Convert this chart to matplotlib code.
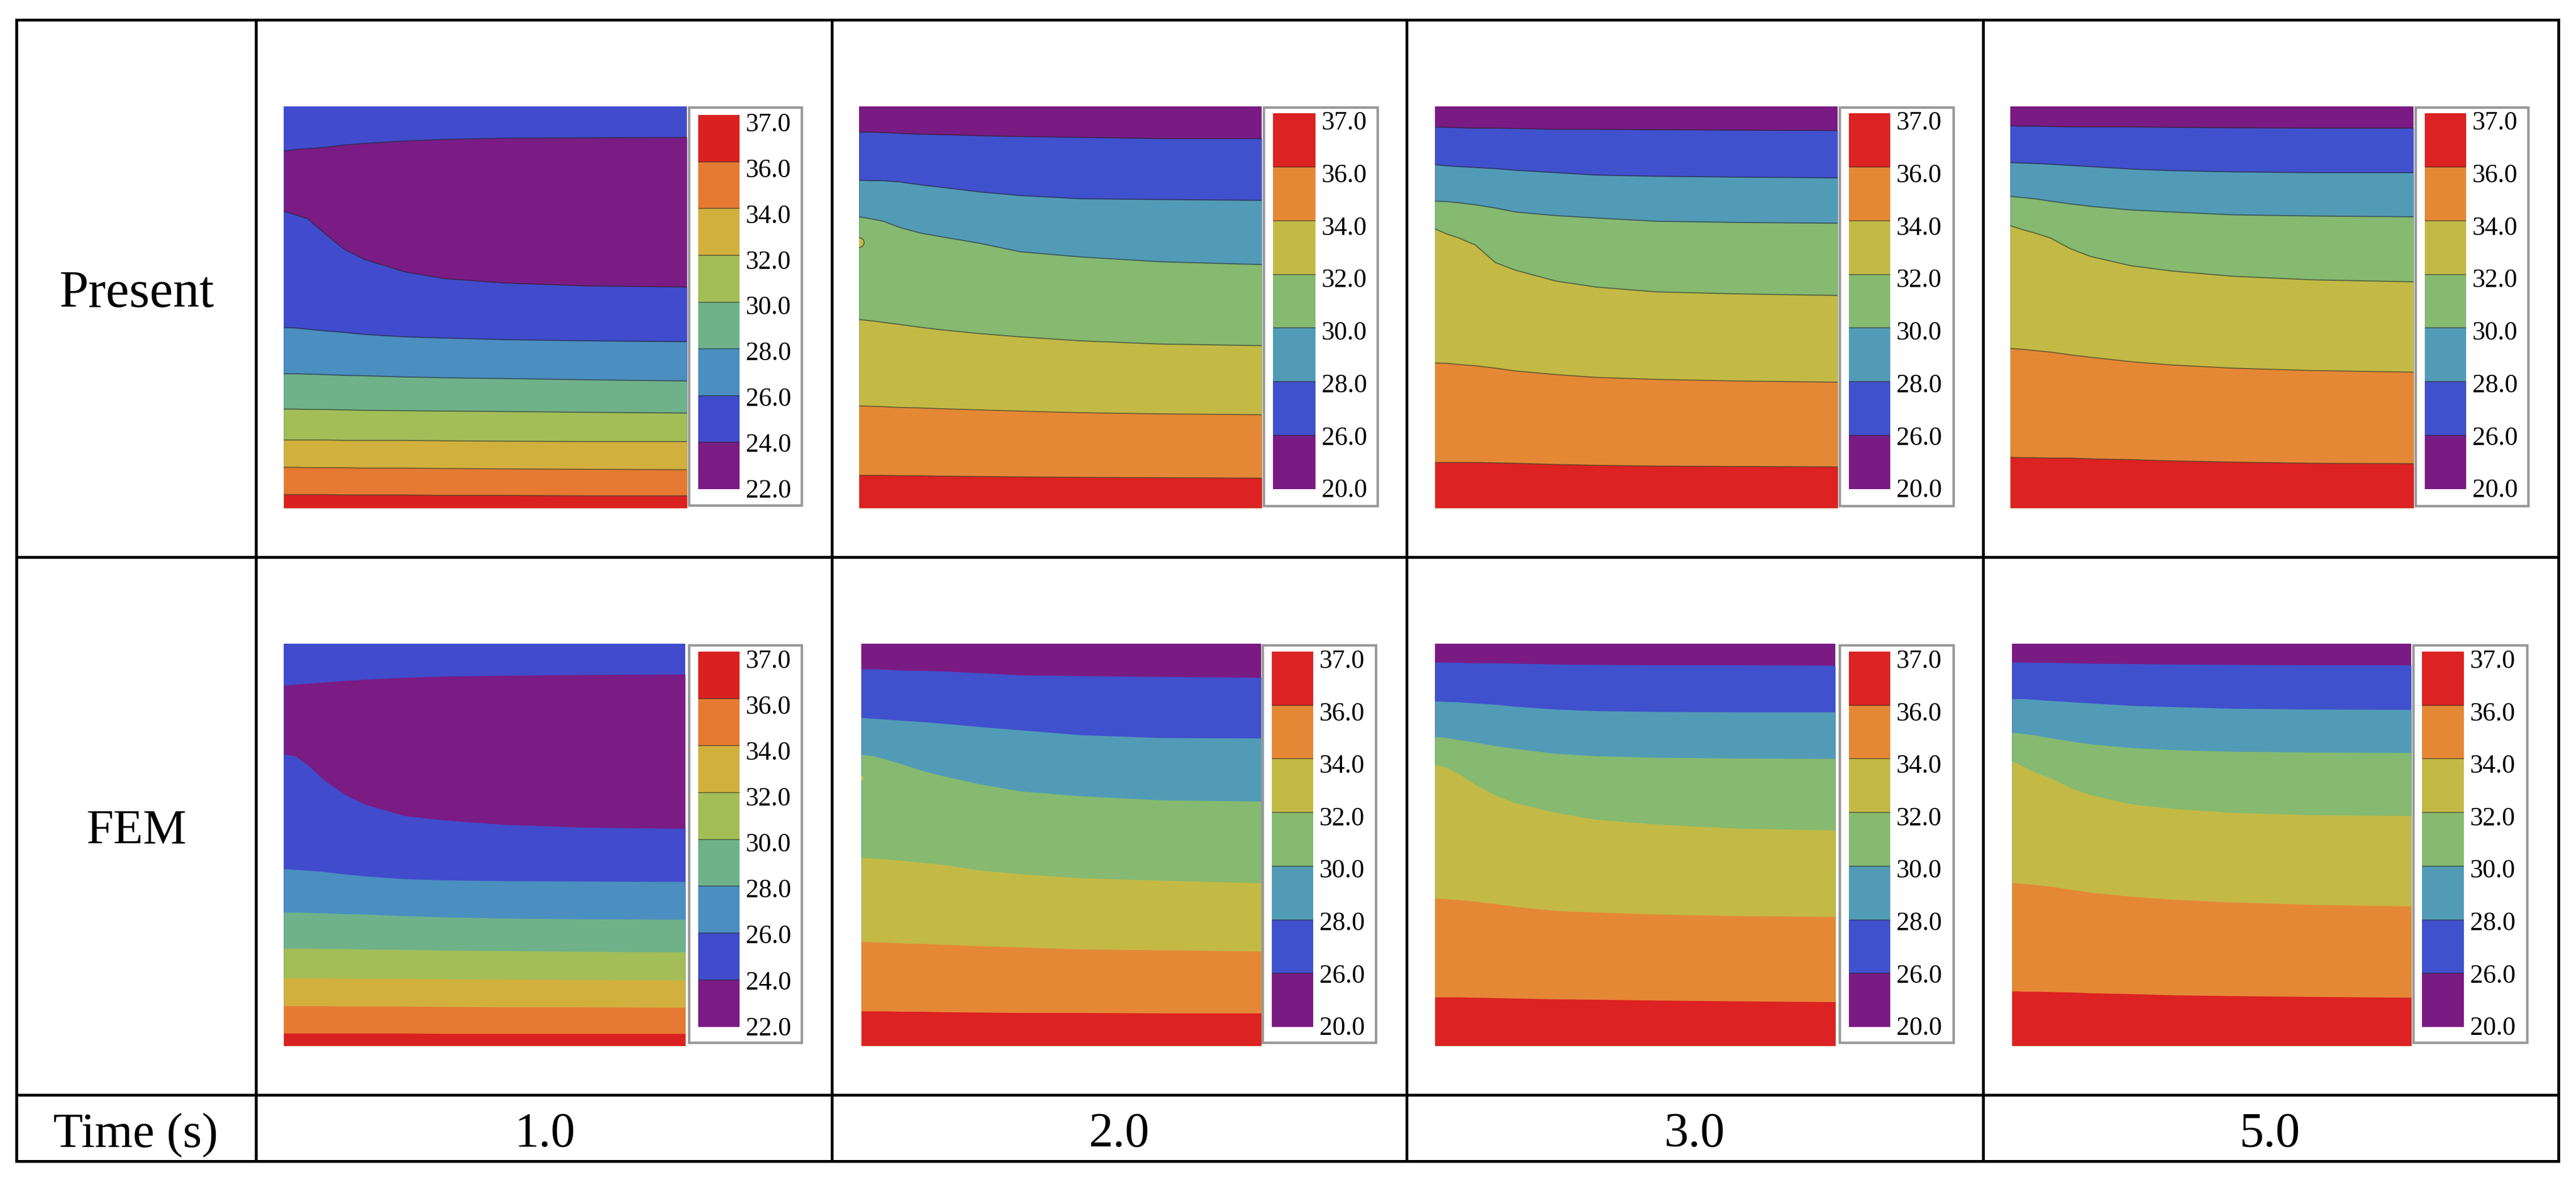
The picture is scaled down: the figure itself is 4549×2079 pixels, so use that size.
import numpy as np
import matplotlib
matplotlib.use('Agg')
import matplotlib.pyplot as plt
from matplotlib.patches import Rectangle

W, H = 4549, 2079
plt.rcParams['font.family'] = ['Liberation Serif', 'DejaVu Serif']

# positions along the plate width, shared by all curves
x_frac = [0, .03, .06, .1, .15, .2, .3, .4, .55, .75, 1]

# boundary depth (% of plate height from top) for each panel
present_1 = [
    [11.1, 10.7, 10.5, 10.2, 9.6, 9.2, 8.6, 8.2, 7.9, 7.8, 7.7],
    [26.1, 27.0, 28.0, 31.5, 35.6, 38.1, 41.2, 42.9, 44.0, 44.7, 45.0],
    [55.1, 55.2, 55.5, 55.9, 56.3, 56.8, 57.4, 57.7, 58.1, 58.4, 58.6],
    [66.6, 66.6, 66.7, 66.8, 67.0, 67.1, 67.4, 67.6, 67.8, 68.1, 68.4],
    [75.4, 75.4, 75.5, 75.5, 75.6, 75.7, 75.8, 75.9, 76.0, 76.2, 76.4],
    [83.1, 83.1, 83.1, 83.1, 83.2, 83.2, 83.2, 83.3, 83.4, 83.5, 83.5],
    [89.9, 89.9, 90.0, 90.0, 90.0, 90.1, 90.1, 90.2, 90.3, 90.4, 90.5],
    [96.7, 96.7, 96.7, 96.7, 96.8, 96.8, 96.8, 96.9, 96.9, 97.0, 97.0],
]
present_2 = [
    [6.4, 6.4, 6.5, 6.7, 6.9, 7.0, 7.3, 7.5, 7.7, 8.0, 8.0],
    [18.4, 18.5, 18.5, 18.8, 19.5, 20.1, 21.3, 22.2, 23.0, 23.2, 23.4],
    [27.5, 28.0, 28.6, 30.1, 31.5, 32.4, 34.1, 36.2, 37.5, 38.7, 39.4],
    [53.1, 53.4, 53.8, 54.3, 55.0, 55.6, 56.6, 57.4, 58.4, 59.2, 59.6],
    [74.6, 74.7, 74.8, 75.0, 75.1, 75.3, 75.6, 75.9, 76.3, 76.6, 76.8],
    [91.9, 91.9, 91.9, 92.0, 92.0, 92.1, 92.2, 92.3, 92.4, 92.5, 92.6],
]
present_3 = [
    [5.1, 5.2, 5.3, 5.4, 5.4, 5.5, 5.7, 5.7, 5.8, 5.9, 6.0],
    [14.5, 14.8, 15.0, 15.2, 15.5, 15.9, 16.5, 17.1, 17.4, 17.6, 17.8],
    [23.6, 23.7, 24.0, 24.5, 25.3, 26.3, 27.2, 27.8, 28.6, 28.9, 29.1],
    [30.5, 31.8, 32.8, 34.5, 38.9, 40.8, 43.5, 45.0, 46.2, 46.7, 47.1],
    [63.9, 64.0, 64.3, 64.6, 65.2, 65.9, 66.8, 67.5, 68.0, 68.4, 68.7],
    [88.7, 88.7, 88.7, 88.7, 88.8, 88.9, 89.2, 89.4, 89.6, 89.7, 89.8],
]
present_5 = [
    [4.8, 4.9, 4.9, 5.0, 5.1, 5.1, 5.1, 5.2, 5.3, 5.4, 5.4],
    [14.0, 14.1, 14.2, 14.4, 14.7, 15.0, 15.6, 16.0, 16.3, 16.5, 16.5],
    [22.4, 22.7, 23.0, 23.6, 24.3, 24.9, 25.8, 26.3, 27.0, 27.3, 27.5],
    [29.7, 30.7, 31.5, 32.8, 35.5, 37.4, 39.7, 41.0, 42.3, 43.2, 43.7],
    [60.3, 60.5, 60.8, 61.2, 61.9, 62.5, 63.6, 64.4, 65.2, 65.8, 66.2],
    [87.4, 87.5, 87.5, 87.6, 87.6, 87.8, 88.0, 88.3, 88.6, 88.9, 89.0],
]
fem_1 = [
    [10.4, 10.1, 9.9, 9.6, 9.2, 8.9, 8.4, 8.1, 7.9, 7.7, 7.6],
    [27.4, 28.0, 30.2, 33.9, 37.4, 39.9, 42.8, 43.9, 45.0, 45.7, 46.0],
    [56.0, 56.2, 56.4, 56.7, 57.3, 57.8, 58.5, 58.8, 59.0, 59.1, 59.2],
    [66.8, 66.8, 66.9, 67.0, 67.2, 67.3, 67.7, 68.0, 68.3, 68.5, 68.6],
    [75.8, 75.8, 75.8, 75.9, 75.9, 76.0, 76.1, 76.3, 76.4, 76.6, 76.7],
    [83.2, 83.2, 83.2, 83.2, 83.3, 83.3, 83.3, 83.4, 83.5, 83.6, 83.7],
    [90.1, 90.1, 90.1, 90.1, 90.2, 90.2, 90.2, 90.3, 90.4, 90.4, 90.5],
    [96.9, 96.9, 96.9, 96.9, 96.9, 96.9, 96.9, 97.0, 97.0, 97.0, 97.0],
]
fem_2 = [
    [6.3, 6.3, 6.4, 6.6, 6.7, 6.8, 7.3, 7.8, 8.0, 8.2, 8.4],
    [18.4, 18.6, 18.8, 19.1, 19.4, 19.8, 20.7, 21.5, 22.7, 23.4, 23.5],
    [27.6, 27.9, 28.7, 29.9, 31.5, 32.8, 35.0, 36.7, 37.9, 38.9, 39.2],
    [53.2, 53.4, 53.6, 53.9, 54.4, 54.9, 56.4, 57.3, 58.3, 58.9, 59.5],
    [74.1, 74.2, 74.3, 74.5, 74.6, 74.8, 75.2, 75.5, 76.0, 76.2, 76.5],
    [91.4, 91.4, 91.4, 91.5, 91.5, 91.6, 91.7, 91.8, 91.8, 91.9, 91.9],
]
fem_3 = [
    [4.6, 4.6, 4.7, 4.8, 4.8, 4.9, 5.1, 5.2, 5.3, 5.3, 5.4],
    [14.3, 14.4, 14.5, 14.8, 15.1, 15.6, 16.3, 16.7, 16.9, 17.0, 17.0],
    [23.1, 23.4, 23.9, 24.5, 25.4, 26.1, 27.3, 27.9, 28.3, 28.5, 28.6],
    [30.0, 30.9, 32.4, 35.0, 37.7, 39.6, 42.0, 43.7, 44.9, 45.9, 46.4],
    [63.3, 63.5, 63.7, 64.1, 64.7, 65.4, 66.4, 66.8, 67.3, 67.7, 67.9],
    [87.9, 87.9, 87.9, 88.0, 88.1, 88.2, 88.4, 88.5, 88.7, 88.9, 89.1],
]
fem_5 = [
    [4.6, 4.6, 4.7, 4.7, 4.8, 4.9, 5.0, 5.1, 5.2, 5.3, 5.3],
    [13.7, 13.7, 13.9, 14.2, 14.5, 14.8, 15.4, 15.7, 16.1, 16.3, 16.4],
    [22.1, 22.4, 22.8, 23.5, 24.3, 25.0, 25.9, 26.4, 26.8, 27.0, 27.1],
    [29.2, 30.6, 32.1, 33.6, 36.0, 37.7, 39.9, 41.0, 42.0, 42.6, 42.8],
    [59.5, 59.7, 60.0, 60.4, 61.2, 61.9, 62.9, 63.6, 64.3, 64.9, 65.3],
    [86.4, 86.5, 86.5, 86.6, 86.7, 86.9, 87.1, 87.4, 87.6, 87.8, 88.0],
]

# colour scale labels, top to bottom
labels_t1 = ['37.0', '36.0', '34.0', '32.0', '30.0', '28.0', '26.0', '24.0', '22.0']
labels_rest = ['37.0', '36.0', '34.0', '32.0', '30.0', '28.0', '26.0', '20.0']

# band colours, coolest first
cmap_t1 = ['#7A1C84', '#404CCB', '#4B8EC0', '#6FB28A', '#A3BE57', '#D2B03E', '#E67A32', '#DA2121']
cmap_rest = ['#7A1B83', '#3F51CC', '#529BB6', '#85BA70', '#C3BA46', '#E58836', '#DC2222']

row_names = ['Present', 'FEM']
times = ['1.0', '2.0', '3.0', '5.0']


def rect(x0, y0, x1, y1):
    return [x0 / W, 1 - y1 / H, (x1 - x0) / W, (y1 - y0) / H]


def draw_panel(box, curves, colors, outlined):
    ax = fig.add_axes(rect(*box))
    ax.set_xlim(0, 1)
    ax.set_ylim(100, 0)
    ax.axis('off')
    # paint from the top down so that no seams show between bands
    ax.fill_between([0, 1], 0, 100, color=colors[0], lw=0)
    for curve, col in zip(curves, colors[1:]):
        ax.fill_between(x_frac, curve, 100, color=col, lw=0)
        if outlined:
            ax.plot(x_frac, curve, color='#222222', lw=1.4, alpha=.55)
    return ax


def draw_scale(frame, swatch, colors, labels):
    over.add_patch(Rectangle((frame[0], frame[1]), frame[2] - frame[0], frame[3] - frame[1],
                             fc='white', ec='#999999', lw=3.2))
    ax = fig.add_axes(rect(*swatch))
    n = len(colors)
    for i, col in enumerate(colors):
        ax.bar(0, 1, bottom=i, width=1, color=col, lw=0)
    for i in range(1, n):
        ax.axhline(i, color='#222222', lw=1.4, alpha=.5)
    ax.set_xlim(-.5, .5)
    ax.set_ylim(0, n)
    ax.set_xticks([])
    ax.yaxis.tick_right()
    ax.set_yticks(np.arange(n + 1) * .978 + .02)
    ax.set_yticklabels(labels[::-1], fontsize=33)
    ax.tick_params(axis='y', length=0, pad=8)
    for s in ax.spines.values():
        s.set_visible(False)


fig = plt.figure(figsize=(W / 100, H / 100), dpi=100, facecolor='white')

# pixel-coordinates overlay for the table grid and cell text
over = fig.add_axes([0, 0, 1, 1])
over.set_xlim(0, W)
over.set_ylim(H, 0)
over.axis('off')

col_x = [29, 452, 1469, 2484, 3502, 4518]
row_y = [35, 984, 1934, 2051]
for x in col_x:
    over.plot([x, x], [row_y[0], row_y[-1]], color='black', lw=3.6, solid_capstyle='projecting')
for y in row_y:
    over.plot([col_x[0], col_x[-1]], [y, y], color='black', lw=3.6, solid_capstyle='projecting')

over.text(241, 542, row_names[0], fontsize=67, ha='center', va='baseline')
over.text(241, 1490, row_names[1], fontsize=62, ha='center', va='baseline')
over.text(239, 2025, 'Time (s)', fontsize=62, ha='center', va='baseline')
for x, t in zip([962, 1976, 2992, 4008], times):
    over.text(x, 2025, t, fontsize=62, ha='center', va='baseline')

panels = [
    (present_1, (501, 188, 1213, 897), (1217, 190, 1416, 893), (1233, 203, 1306, 864), True),
    (present_2, (1517, 188, 2228, 897), (2232, 190, 2433, 894), (2248, 200, 2323, 864), True),
    (present_3, (2534, 188, 3245, 897), (3249, 190, 3450, 894), (3265, 200, 3338, 864), True),
    (present_5, (3550, 188, 4262, 897), (4266, 190, 4465, 894), (4282, 200, 4355, 864), True),
    (fem_1, (501, 1137, 1210, 1847), (1217, 1140, 1416, 1842), (1233, 1151, 1306, 1814), False),
    (fem_2, (1521, 1137, 2227, 1847), (2230, 1140, 2430, 1842), (2246, 1151, 2319, 1814), False),
    (fem_3, (2534, 1137, 3241, 1847), (3249, 1140, 3450, 1842), (3265, 1151, 3338, 1814), False),
    (fem_5, (3553, 1137, 4258, 1847), (4262, 1140, 4463, 1842), (4277, 1151, 4351, 1814), False),
]

for curves, box, frame, swatch, outlined in panels:
    t1 = len(curves) == 8
    cmap = cmap_t1 if t1 else cmap_rest
    # at t=1 the plate top is a blue band above the purple one
    bands = [cmap[1]] + cmap if t1 else cmap
    ax = draw_panel(box, curves, bands, outlined)
    draw_scale(frame, swatch, cmap, labels_t1 if t1 else labels_rest)
    # small hot spot on the left edge at t=2
    if curves is present_2:
        ax.scatter([0], [33.8], s=150, color=cmap_rest[4], edgecolor='#444444', lw=1)
    if curves is fem_2:
        ax.scatter([0], [33.4], s=30, color=cmap_rest[4], lw=0)

fig.savefig('out.png', dpi=100)
